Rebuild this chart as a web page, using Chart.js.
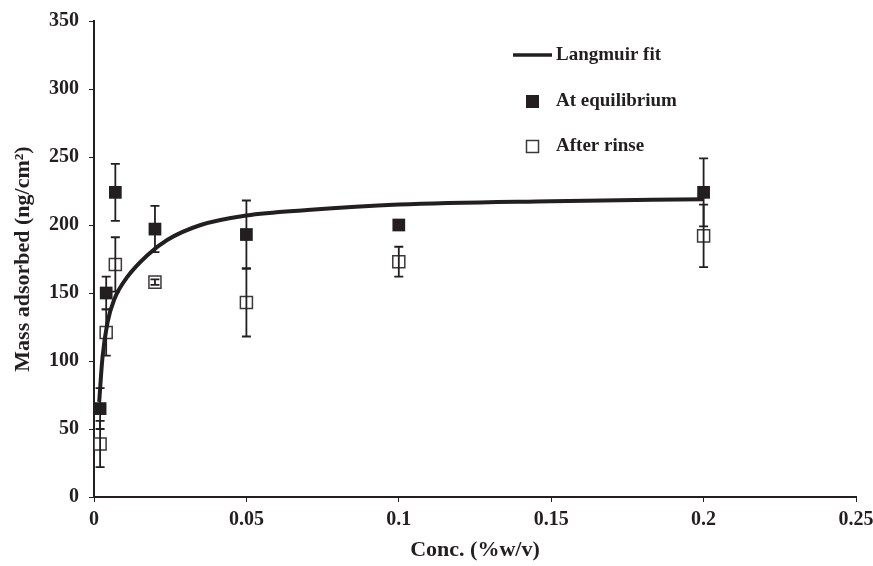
<!DOCTYPE html>
<html>
<head>
<meta charset="utf-8">
<script src="https://cdn.jsdelivr.net/npm/chart.js@4"></script>
<style>
  html, body { margin: 0; padding: 0; background: #fff; }
  #wrap { width: 873px; height: 566px; }
</style>
</head>
<body>
<div id="wrap"><canvas id="chart"></canvas></div>
<script>
// concentrations (%w/v)
const conc = [0.002, 0.004, 0.007, 0.02, 0.05, 0.1, 0.2];
// mass adsorbed (ng/cm2) and error bars
const eqMass = [65, 150, 224, 197, 193, 200, 224];
const eqErr = [15, 12, 21, 17, 25, 3, 25];
const rinseMass = [39, 121, 171, 158, 143, 173, 192];
const rinseErr = [17, 17, 20, 2, 25, 11, 23];
// Langmuir fit curve
const fitConc = [0.0017, 0.0028, 0.0044, 0.0066, 0.011, 0.0176, 0.024, 0.035, 0.05, 0.07, 0.1, 0.15, 0.2];
const fitMass = [70, 103, 128, 145, 162, 178, 189, 200, 207, 211, 215, 217.5, 219];

const ink = "#231f20";
const serif = "'Liberation Serif', 'Times New Roman', serif";

const toPts = (xs, ys) => xs.map((x, i) => ({ x: x, y: ys[i] }));

// error bars for the two marker series
const errorBars = {
  id: "errorBars",
  afterDatasetsDraw(chart) {
    const { ctx, scales } = chart;
    const sets = [[eqMass, eqErr], [rinseMass, rinseErr]];
    ctx.save();
    ctx.strokeStyle = ink;
    ctx.lineWidth = 1.8;
    sets.forEach(([vals, errs]) => {
      conc.forEach((c, i) => {
        const px = scales.x.getPixelForValue(c);
        const top = scales.y.getPixelForValue(vals[i] + errs[i]);
        const bot = scales.y.getPixelForValue(vals[i] - errs[i]);
        ctx.beginPath();
        ctx.moveTo(px, top); ctx.lineTo(px, bot);
        ctx.moveTo(px - 4.5, top); ctx.lineTo(px + 4.5, top);
        ctx.moveTo(px - 4.5, bot); ctx.lineTo(px + 4.5, bot);
        ctx.stroke();
      });
    });
    ctx.restore();
  }
};

// legend placed inside the plot like the original
const insideLegend = {
  id: "insideLegend",
  afterDraw(chart) {
    const ctx = chart.ctx;
    const ds = chart.data.datasets;
    ctx.save();
    ctx.font = "bold 19px " + serif;
    ctx.fillStyle = ink;
    ctx.textBaseline = "middle";
    ctx.textAlign = "left";

    ctx.strokeStyle = ink;
    ctx.lineWidth = 3.5;
    ctx.beginPath();
    ctx.moveTo(513, 55); ctx.lineTo(552, 55);
    ctx.stroke();
    ctx.fillText(ds[0].label, 556, 55);

    ctx.fillRect(526, 95, 13, 13);
    ctx.fillText(ds[1].label, 556, 101);

    ctx.lineWidth = 1.5;
    ctx.strokeStyle = "#3a3a3a";
    ctx.strokeRect(526.5, 140.5, 12, 12);
    ctx.fillText(ds[2].label, 556, 146);
    ctx.restore();
  }
};

new Chart(document.getElementById("chart"), {
  type: "scatter",
  data: {
    datasets: [
      {
        label: "Langmuir fit",
        data: toPts(fitConc, fitMass),
        showLine: true,
        borderColor: ink,
        borderWidth: 4,
        pointRadius: 0,
        cubicInterpolationMode: "monotone",
        fill: false,
      },
      {
        label: "At equilibrium",
        data: toPts(conc, eqMass),
        pointStyle: "rect",
        pointRadius: 9,
        backgroundColor: ink,
        borderColor: ink,
        borderWidth: 0,
      },
      {
        label: "After rinse",
        data: toPts(conc, rinseMass),
        pointStyle: "rect",
        pointRadius: 8.5,
        backgroundColor: "#ffffff",
        borderColor: "#3a3a3a",
        borderWidth: 1.5,
      },
    ],
  },
  options: {
    responsive: true,
    maintainAspectRatio: false,
    animation: false,
    layout: { padding: { top: 21, right: 17, left: 0, bottom: 0 } },
    plugins: {
      legend: { display: false },
      tooltip: { enabled: false },
    },
    scales: {
      x: {
        type: "linear",
        min: 0,
        max: 0.25,
        afterFit: (s) => { s.height = 69; s.paddingRight = 0; s.paddingLeft = 0; },
        ticks: {
          stepSize: 0.05,
          color: ink,
          font: { family: serif, size: 20, weight: "bold" },
          padding: 6,
          callback: (v) => String(Math.round(v * 100) / 100),
        },
        grid: { drawOnChartArea: false, drawTicks: true, tickLength: 5, color: ink },
        border: { display: true, color: ink, width: 2 },
        title: {
          display: true,
          text: "Conc. (%w/v)",
          color: ink,
          font: { family: serif, size: 22, weight: "bold" },
          padding: { top: 0, bottom: 2 },
        },
      },
      y: {
        min: 0,
        max: 350,
        afterFit: (s) => { s.width = 94; s.paddingTop = 0; s.paddingBottom = 0; },
        ticks: {
          stepSize: 50,
          color: ink,
          font: { family: serif, size: 20, weight: "bold" },
          padding: 10,
        },
        grid: { drawOnChartArea: false, drawTicks: true, tickLength: 5, color: ink },
        border: { display: true, color: ink, width: 2 },
        title: {
          display: true,
          text: "Mass adsorbed (ng/cm²)",
          color: ink,
          font: { family: serif, size: 22, weight: "bold" },
          padding: { top: 10, bottom: 0 },
        },
      },
    },
  },
  plugins: [errorBars, insideLegend],
});
</script>
</body>
</html>
